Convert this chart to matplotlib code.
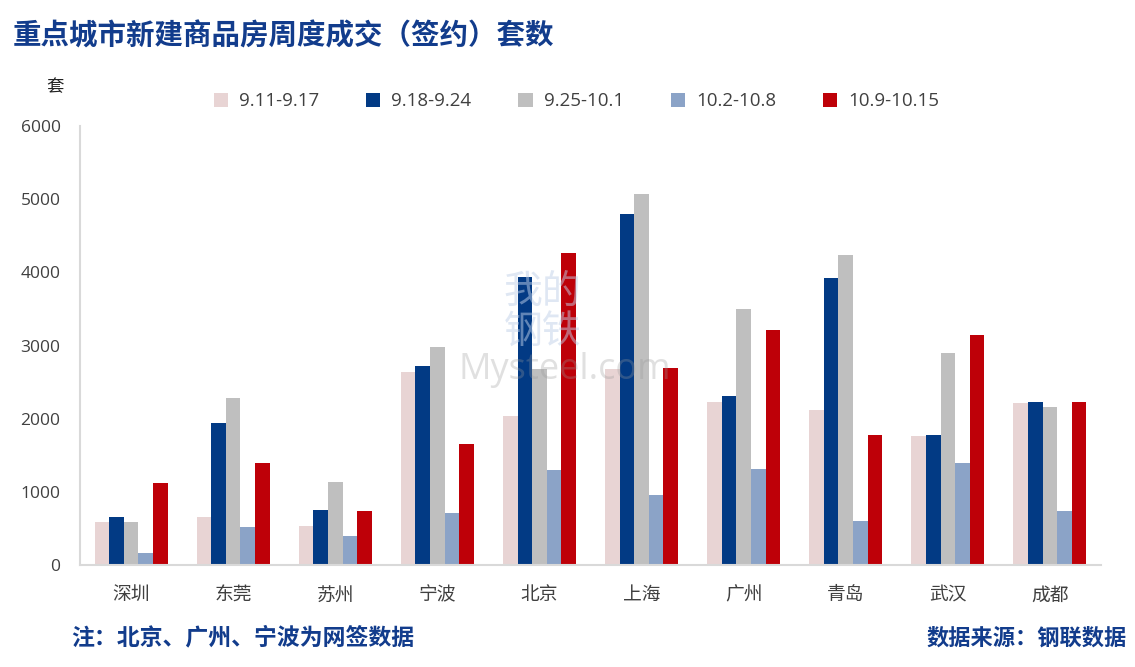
import numpy as np
import matplotlib
matplotlib.use("Agg")
import matplotlib.pyplot as plt

plt.rcParams['font.family'] = ['Noto Sans CJK SC', 'DejaVu Sans']

# data
cities = ["深圳", "东莞", "苏州", "宁波", "北京", "上海", "广州", "青岛", "武汉", "成都"]
weeks = ["9.11-9.17", "9.18-9.24", "9.25-10.1", "10.2-10.8", "10.9-10.15"]
w1 = [590, 655, 533, 2637, 2035, 2680, 2227, 2117, 1762, 2213]
w2 = [655, 1940, 751, 2719, 3934, 4795, 2309, 3921, 1776, 2227]
w3 = [590, 2281, 1134, 2978, 2680, 5068, 3497, 4235, 2896, 2158]
w4 = [164, 519, 396, 710, 1298, 956, 1311, 601, 1393, 738]
w5 = [1120, 1393, 738, 1653, 4262, 2691, 3210, 1776, 3142, 2227]
series = [w1, w2, w3, w4, w5]
colors = ["#E8D4D4", "#023A84", "#BFBFBF", "#8BA3C7", "#BE0008"]

fig = plt.figure(figsize=(11.35, 6.67), dpi=100)
ax = fig.add_axes([0.0705, 0.153, 0.8995, 0.658])

x = np.arange(len(cities))
bw = 0.143
for i, (vals, c, lab) in enumerate(zip(series, colors, weeks)):
    ax.bar(x + (i - 2) * bw, vals, width=bw, color=c, label=lab, zorder=2)

ax.set_xlim(-0.5, len(cities) - 0.5)
ax.set_ylim(0, 6000)
ax.set_yticks(range(0, 6001, 1000))
ax.set_yticklabels([str(v) for v in range(0, 6001, 1000)], family=['Open Sans', 'DejaVu Sans'],
                   fontsize=12.5, color='#404040')
ax.set_xticks(x)
ax.set_xticklabels(cities, fontsize=13.5, color='#404040')
ax.tick_params(axis='x', length=0, pad=14)
ax.tick_params(axis='y', length=0, pad=14)
for s in ['top', 'right']:
    ax.spines[s].set_visible(False)
for s in ['left', 'bottom']:
    ax.spines[s].set_color('#D9D9D9')
    ax.spines[s].set_linewidth(1.5)

# watermark
ax.text(0.475, 0.445, "Mysteel.com", transform=ax.transAxes, ha='center', va='center',
        fontsize=26, color='#999999', alpha=0.3, family=['Open Sans', 'DejaVu Sans'], zorder=3)
ax.text(0.453, 0.576, "我的\n钢铁", transform=ax.transAxes, ha='center', va='center',
        fontsize=28, color='#C0D0E8', alpha=0.5, linespacing=1.05, zorder=3)

leg = fig.legend(loc='center', bbox_to_anchor=(0.508, 0.848), ncol=5, frameon=False,
                 handlelength=0.75, handleheight=0.75, columnspacing=2.5,
                 handletextpad=0.6, prop={'family': ['Open Sans', 'DejaVu Sans'], 'size': 13.5})
for t in leg.get_texts():
    t.set_color('#404040')

fig.text(0.011, 0.946, "重点城市新建商品房周度成交（签约）套数", fontsize=20.5,
         fontweight='bold', color='#123C8C', va='center')
fig.text(0.041, 0.869, "套", fontsize=12.5, color='#222222', va='center')
fig.text(0.063, 0.043, "注：北京、广州、宁波为网签数据", fontsize=16.5, fontweight='bold',
         color='#123C8C', va='center')
fig.text(0.993, 0.043, "数据来源：钢联数据", fontsize=16, fontweight='bold',
         color='#123C8C', va='center', ha='right')

fig.savefig("out.png", dpi=100)
